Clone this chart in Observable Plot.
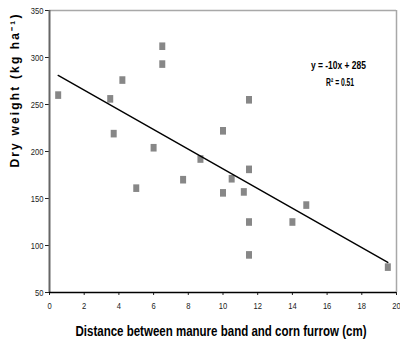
<!DOCTYPE html>
<html>
<head>
<meta charset="utf-8">
<script src="https://cdn.jsdelivr.net/npm/d3@7"></script>
<script src="https://cdn.jsdelivr.net/npm/@observablehq/plot@0.6"></script>
<style>
  html, body { margin: 0; padding: 0; background: #fff; }
  #chart svg { display: block; font-family: "Liberation Sans", Arial, sans-serif; }
</style>
</head>
<body>
<div id="chart"></div>
<script>
// Data
const distance = [0.5, 3.5, 3.7, 4.2, 5.0, 6.0, 6.5, 6.5, 7.7, 8.7, 10.0, 10.0, 10.5, 11.2, 11.5, 11.5, 11.5, 11.5, 14.0, 14.8, 19.5];
const dryWeight = [260, 256, 219, 276, 161, 204, 312, 293, 170, 192, 222, 156, 171, 157, 255, 181, 125, 90, 125, 143, 77];
const trendX = [0.5, 19.5];
const trendY = [281, 82];
const xTicks = [0, 2, 4, 6, 8, 10, 12, 14, 16, 18, 20];
const yTicks = [50, 100, 150, 200, 250, 300, 350];
const equationLines = ["y = -10x + 285", "R² = 0.51"];
const xTitle = "Distance between manure band and corn furrow (cm)";
const yTitle = "Dry weight (kg ha⁻¹)";

const points = distance.map((d, i) => ({x: d, y: dryWeight[i]}));
const trend = trendX.map((d, i) => ({x: d, y: trendY[i]}));

const rectSymbol = {draw(context) { context.rect(-3, -3.8, 6, 7.6); }};

const chart = Plot.plot({
  width: 400,
  height: 346,
  marginLeft: 49,
  marginRight: 4,
  marginTop: 10,
  marginBottom: 54,
  x: {domain: [0, 20]},
  y: {domain: [50, 350]},
  style: {fontSize: "9.5px", color: "#222", background: "#fff"},
  marks: [
    Plot.ruleY([350], {stroke: "#a8a8a8", strokeWidth: 1.5}),
    Plot.ruleX([20], {stroke: "#a8a8a8", strokeWidth: 1.5}),
    Plot.axisX({ticks: xTicks, tickSize: 3, tickPadding: 7, label: null, fontSize: 9.5, stroke: "#222"}),
    Plot.axisY({ticks: yTicks, tickSize: 4, tickPadding: 2, label: null, fontSize: 9.5, stroke: "#222"}),
    Plot.ruleX([0], {stroke: "#666", strokeWidth: 2}),
    Plot.ruleY([50], {stroke: "#000", strokeWidth: 1.3}),
    Plot.dot(points, {x: "x", y: "y", symbol: rectSymbol, r: 4, fill: "#878787", stroke: "none"}),
    Plot.line(trend, {x: "x", y: "y", stroke: "#000", strokeWidth: 1.4}),
    Plot.text(equationLines, {x: [16.65, 16.75], y: [291.5, 273.5], text: d => d, fontSize: 11.5, fontWeight: "bold", fill: "#000"}),
    Plot.text([xTitle], {frameAnchor: "bottom", dy: 43, dx: -2, text: d => d, fontSize: 15, fontWeight: "bold", fill: "#000"}),
    Plot.text([yTitle], {frameAnchor: "left", dx: -34, dy: 16, rotate: -90, text: d => d, fontSize: 12, fontWeight: "bold", fill: "#000"})
  ]
});
document.getElementById("chart").appendChild(chart);

// Emulate the condensed (narrow) typeface of the reference
d3.select(chart).selectAll("text").each(function() {
  const t = this.textContent;
  const w = this.getComputedTextLength();
  let target, adjust = "spacingAndGlyphs";
  if (t === xTitle) target = 291;
  else if (t === yTitle) { target = 153; adjust = "spacing"; }
  else if (t === equationLines[0]) target = 55;
  else if (t === equationLines[1]) target = 28;
  else target = w * 0.8;
  this.setAttribute("textLength", target);
  this.setAttribute("lengthAdjust", adjust);
});
</script>
</body>
</html>
